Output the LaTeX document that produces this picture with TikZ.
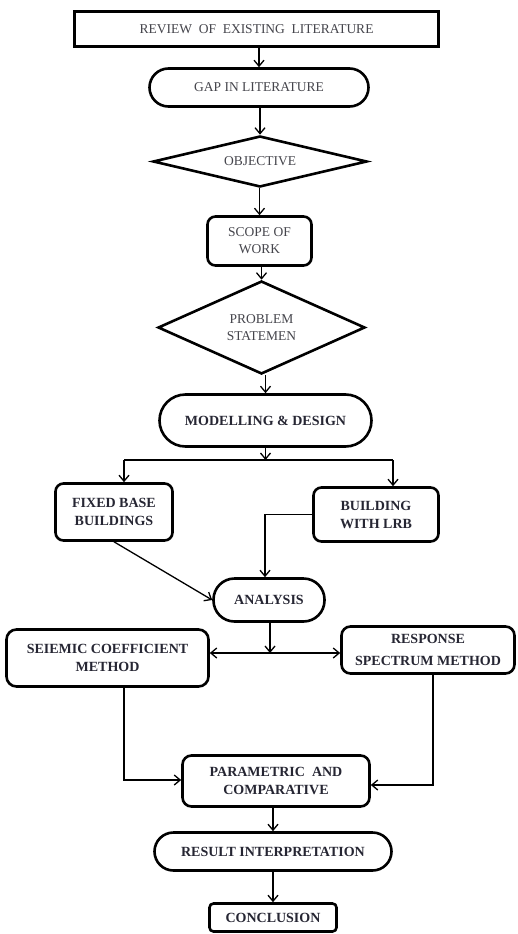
\documentclass[tikz,border=0pt]{standalone}
\usepackage{fontspec}
\setmainfont{Liberation Serif}
\usetikzlibrary{shapes.geometric,arrows.meta}
\definecolor{txtreg}{rgb}{0.27,0.27,0.30}
\definecolor{txtbold}{rgb}{0.15,0.15,0.20}
\tikzset{
  box/.style={draw=black, line width=2.6pt, align=center, inner sep=0pt, text=txtreg,
              font=\fontsize{13.5}{17}\selectfont},
  bbox/.style={box, text=txtbold, font=\fontsize{14}{18}\selectfont\bfseries},
  plainline/.style={line width=1.3pt},
  conn/.style={plainline, -{Straight Barb[length=6pt,width=10pt]}},
  conntwo/.style={plainline, {Straight Barb[length=6pt,width=10pt]}-{Straight Barb[length=6pt,width=10pt]}}
}
\begin{document}
\begin{tikzpicture}[x=1pt,y=-1pt]
\useasboundingbox (0,0) rectangle (518,934);
\fill[white] (0,0) rectangle (518,934);

\node[box, rectangle, minimum width=364pt, minimum height=35pt] (review) at (256.5,29) {REVIEW\ \ OF\ \ EXISTING\ \ LITERATURE};
\node[box, rounded corners=19pt, minimum width=219pt, minimum height=38pt] (gap) at (259,87.5) {GAP IN LITERATURE};
\node[box, diamond, aspect=4, minimum width=214pt, minimum height=51pt] (obj) at (260,161.5) {OBJECTIVE};
\node[box, rounded corners=8pt, minimum width=104pt, minimum height=49pt] (scope) at (259.5,241) {SCOPE OF\\WORK};
\node[box, diamond, aspect=2.2, minimum width=207pt, minimum height=93pt] (prob) at (261.5,327.5) {PROBLEM\\STATEMEN};
\node[bbox, rounded corners=26pt, minimum width=212pt, minimum height=52pt] (model) at (265.5,420.5) {MODELLING \& DESIGN};
\node[bbox, rounded corners=8pt, minimum width=117pt, minimum height=57pt] (fixed) at (114,512) {FIXED BASE\\BUILDINGS};
\node[bbox, rounded corners=8pt, minimum width=125pt, minimum height=54pt] (lrb) at (376,514.5) {BUILDING\\WITH LRB};
\node[bbox, rounded corners=21pt, minimum width=111pt, minimum height=43pt] (analysis) at (269,600) {ANALYSIS};
\node[bbox, rounded corners=10pt, minimum width=202pt, minimum height=57pt] (seismic) at (107.5,658) {SEIEMIC COEFFICIENT\\METHOD};
\node[bbox, rounded corners=9pt, minimum width=173pt, minimum height=47pt, font=\fontsize{14}{22}\selectfont\bfseries] (response) at (428,650) {RESPONSE\\SPECTRUM METHOD};
\node[bbox, rounded corners=9pt, minimum width=187pt, minimum height=51pt] (param) at (276,781) {PARAMETRIC\ \ AND\\COMPARATIVE};
\node[bbox, rounded corners=19pt, minimum width=237pt, minimum height=38pt] (result) at (273,851.5) {RESULT INTERPRETATION};
\node[bbox, rounded corners=4pt, minimum width=127pt, minimum height=28pt] (concl) at (273,917.5) {CONCLUSION};

\draw[conn] (gap.north |- review.south) -- (gap.north);
\draw[conn] (obj.north |- gap.south) -- (obj.north);
\draw[conn] (scope.north |- obj.south) -- (scope.north);
\draw[conn] (prob.north |- scope.south) -- (prob.north);
\draw[conn] (model.north |- prob.south) -- (model.north);

\coordinate (s1) at (265.5,460);
\coordinate (s1L) at (124,460);
\coordinate (s1R) at (393,460);
\draw[conn] (model.south) -- (s1);
\draw[plainline] (s1L) -- (s1R);
\draw[conn] (s1L) -- (s1L |- fixed.north);
\draw[conn] (s1R) -- (s1R |- lrb.north);

\coordinate (c1) at (265,514.5);
\draw[conn] (lrb.west) -- (c1) -- (c1 |- analysis.north);
\draw[conn] (fixed.south) -- (analysis.west);

\coordinate (s2) at (270,653);
\draw[conn] (analysis.south -| s2) -- (s2);
\draw[conntwo] (seismic.east |- s2) -- (response.west |- s2);

\coordinate (c2) at (124,780);
\draw[conn] (seismic.south -| c2) -- (c2) -- (param.west |- c2);
\coordinate (c3) at (433,785);
\draw[conn] (response.south -| c3) -- (c3) -- (param.east |- c3);

\draw[conn] (param.south -| result.north) -- (result.north);
\draw[conn] (result.south) -- (concl.north);
\end{tikzpicture}
\end{document}
